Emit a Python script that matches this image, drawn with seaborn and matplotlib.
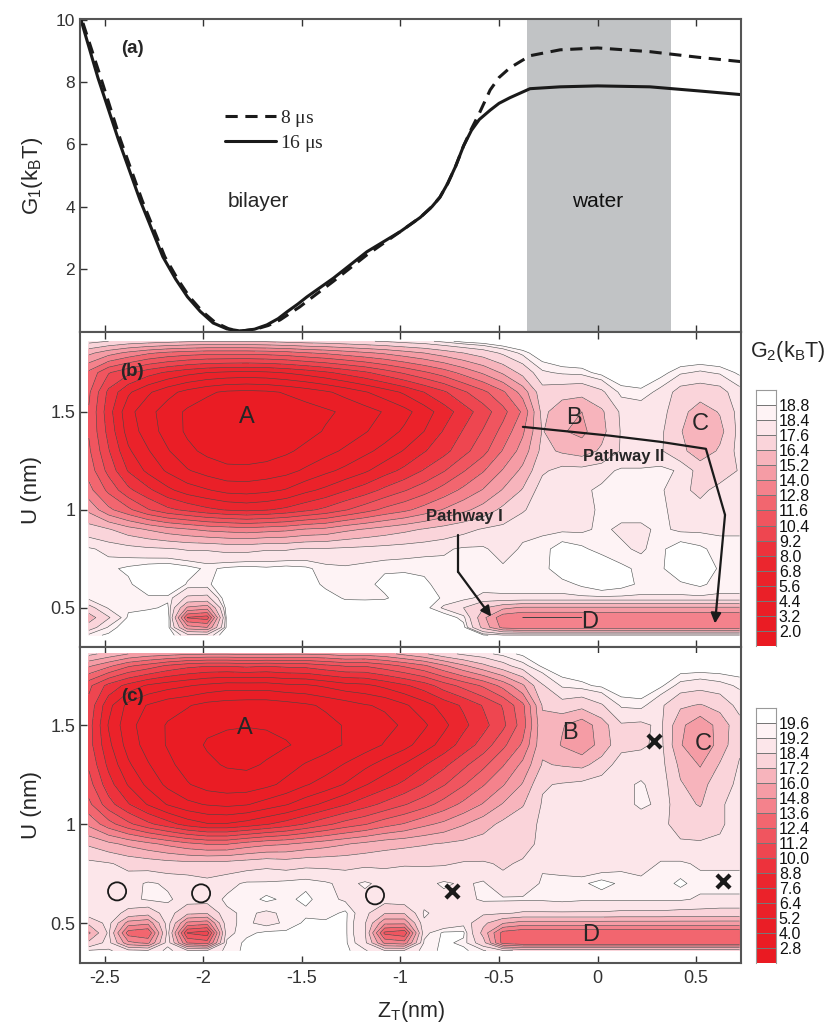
import numpy as np
import seaborn as sns
import matplotlib
matplotlib.use('Agg')
import matplotlib.pyplot as plt
from matplotlib.colors import ListedColormap

# courbes G1 du panneau (a)
z_8us = [-2.61, -2.52, -2.42, -2.31, -2.195, -2.13, -2.07, -2.005, -1.94, -1.87, -1.81, -1.74, -1.67, -1.61, -1.565, -1.51, -1.465, -1.34, -1.17, -1.0, -0.9, -0.84, -0.8,
         -0.76, -0.72, -0.68, -0.64, -0.6, -0.545, -0.5, -0.445, -0.343, -0.19, 0.0, 0.265, 0.51, 0.727]
g_8us = [9.9, 8.15, 6.15, 4.2, 2.39, 1.67, 1.1, 0.63, 0.28, 0.07, 0.0, 0.05, 0.18, 0.36, 0.55, 0.78, 1.0, 1.6, 2.45, 3.2, 3.65, 4.0, 4.3,
         4.75, 5.3, 5.95, 6.5, 7.0, 7.75, 8.15, 8.46, 8.85, 9.04, 9.1, 8.98, 8.8, 8.66]
z_16us = [-2.62, -2.534, -2.43, -2.32, -2.205, -2.14, -2.08, -2.015, -1.95, -1.88, -1.81, -1.74, -1.677, -1.62, -1.575, -1.52, -1.474, -1.34, -1.17, -1.0, -0.9, -0.84, -0.8,
          -0.76, -0.72, -0.68, -0.64, -0.6, -0.545, -0.5, -0.445, -0.343, -0.19, 0.0, 0.265, 0.51, 0.727]
g_16us = [10.0, 8.14, 6.15, 4.2, 2.39, 1.67, 1.1, 0.63, 0.26, 0.07, 0.0, 0.06, 0.2, 0.4, 0.62, 0.87, 1.1, 1.7, 2.55, 3.2, 3.65, 4.0, 4.3,
          4.75, 5.3, 5.95, 6.45, 6.8, 7.1, 7.32, 7.5, 7.79, 7.85, 7.88, 7.85, 7.72, 7.6]

# grille des cartes G2
z_grid = [-2.58, -2.48, -2.38, -2.28, -2.18, -2.08, -1.98, -1.88, -1.78, -1.68, -1.58, -1.48, -1.38, -1.28, -1.18, -1.08, -0.98,
          -0.88, -0.78, -0.68, -0.58, -0.48, -0.38, -0.28, -0.18, -0.08, 0.02, 0.12, 0.22, 0.32, 0.42, 0.52, 0.62, 0.72]
u_grid = [1.86, 1.8, 1.7, 1.6, 1.5, 1.4, 1.3, 1.2, 1.1, 1.0, 0.9, 0.8, 0.7, 0.62, 0.55, 0.5, 0.45, 0.4, 0.36]

g2_b = [
    [18, 17.6, 17.2, 17, 16.8, 16.6, 16.5, 16.5, 16.5, 16.6, 16.8, 17, 17.1, 17.3, 17.5, 17.7, 18, 18.2, 18.6, 19, 19.2, 19.5, 19.5, 19.5, 19.5, 19.5, 19.5, 19.5, 19.5, 19.5, 19.5, 19.5, 19.5, 19.5],
    [15.5, 14.5, 13.7, 13, 12.5, 12.2, 12, 12, 12, 12.1, 12.3, 12.7, 13, 13.4, 13.8, 14.2, 14.7, 15.2, 15.8, 16.4, 17, 17.8, 18.6, 19.2, 19.5, 19.5, 19.5, 19.5, 19.5, 19.5, 19.5, 19.5, 19.5, 19.5],
    [12.5, 10.5, 9.5, 8.5, 7.8, 7.2, 6.8, 6.6, 6.5, 6.6, 6.9, 7.3, 7.8, 8.4, 9, 9.8, 10.6, 11.4, 12.2, 13.2, 14.2, 15.4, 16.8, 18.3, 18.5, 18.6, 19, 19.2, 19.2, 19, 18.5, 18.3, 18.5, 18.9],
    [11.8, 8.9, 7, 5.8, 4.8, 4, 3.4, 3, 2.9, 3, 3.3, 3.7, 4.2, 4.8, 5.5, 6.2, 7, 8, 9, 10.2, 11.3, 12.6, 14.5, 17.2, 17, 16.8, 17.4, 18.6, 18.7, 18.2, 17.2, 17, 17.2, 18.2],
    [11.5, 8.5, 6, 4.8, 3.8, 3, 2.6, 2.3, 2.2, 2.3, 2.5, 2.7, 3, 3.4, 3.9, 4.5, 5.2, 6.2, 7.4, 8.6, 9.8, 11.2, 13, 16.8, 15.5, 15.2, 16.2, 17.8, 18, 18, 16.8, 15.8, 16.5, 18],
    [11.5, 8.8, 6.3, 5, 3.9, 3, 2.5, 2.1, 2.05, 2.1, 2.5, 2.8, 3.3, 3.7, 4.3, 5, 5.8, 6.8, 8.1, 9.3, 10.5, 12, 13.8, 16.5, 15.3, 14.9, 16, 17.7, 17.8, 17.8, 16.5, 15.3, 16, 18],
    [11.8, 9.3, 7, 5.7, 4.5, 3.5, 2.9, 2.6, 2.5, 2.6, 3, 3.5, 4, 4.6, 5.3, 6, 6.9, 7.9, 8.8, 10, 11.2, 12.9, 14.5, 16.8, 16.2, 15.8, 16.6, 17.7, 17.7, 17.7, 16.8, 15.6, 16.6, 18],
    [12.3, 10, 7.9, 6.5, 5.4, 4.5, 3.9, 3.5, 3.5, 3.7, 4, 4.6, 5.3, 5.9, 6.6, 7.5, 8.3, 9.3, 10.3, 11.5, 12.7, 14.1, 15.5, 17.4, 18, 18, 18.2, 18.5, 18.5, 18.6, 18.3, 17.2, 16.9, 17.7],
    [13.2, 11.3, 9.5, 8.3, 7.1, 6.2, 5.7, 5.2, 5.1, 5.3, 5.7, 6.5, 7.1, 7.9, 8.6, 9.5, 10.3, 11.1, 12.1, 13.1, 14.1, 15.3, 16.5, 18.2, 18.2, 18.3, 18.5, 18.6, 18.6, 18.5, 17.9, 17.3, 18, 18.2],
    [14.9, 13.1, 11.9, 10.5, 9.5, 8.9, 8.3, 7.9, 7.7, 7.9, 8.3, 8.9, 9.5, 10.3, 11.1, 11.9, 12.5, 13.3, 14.1, 14.9, 15.7, 16.7, 17.5, 18.1, 18.2, 18.3, 18.45, 18.6, 18.6, 18.5, 18.2, 18, 18.2, 18.3],
    [17, 16.5, 15.7, 15.1, 14.5, 14.1, 13.7, 13.5, 13.3, 13.5, 13.7, 14.1, 14.3, 14.9, 15.3, 15.7, 16.1, 16.5, 16.9, 17.3, 17.7, 17.9, 18.2, 18.3, 18.3, 18.3, 18.5, 18.3, 18.3, 18.5, 18.3, 18.3, 18.3, 18.3],
    [18.5, 18.2, 18, 17.8, 17.7, 17.5, 17.5, 17.3, 17.3, 17.5, 17.5, 17.7, 17.7, 17.8, 17.9, 18, 18.1, 18.2, 18.3, 18.5, 18.5, 18.1, 18.5, 18.6, 19.1, 18.9, 18.6, 18.5, 18.3, 18.7, 19.1, 18.9, 18.6, 18.6],
    [18.6, 18.7, 18.9, 19.1, 19.2, 19, 18.7, 18.9, 19, 18.9, 19, 18.9, 18.6, 18.5, 18.6, 18.7, 18.7, 18.7, 18.6, 18.7, 18.6, 18.5, 18.6, 18.6, 19.2, 19.3, 19.3, 18.9, 18.7, 18.7, 19.3, 19.3, 18.7, 18.6],
    [18.5, 18.5, 18.7, 19.2, 19.3, 18.75, 18.7, 19.2, 19.4, 19.4, 19.4, 19.3, 18.6, 18.6, 18.6, 19, 19.1, 18.9, 18.6, 18.6, 18.7, 18.6, 18.6, 18.6, 18.6, 18.9, 19.2, 19, 18.7, 18.7, 18.7, 18.9, 18.6, 18.6],
    [18.6, 18.5, 18.7, 18.7, 18.7, 17.4, 17.3, 19.3, 19.4, 19.4, 19.4, 19.4, 19.2, 18.7, 18.7, 18.7, 19.2, 19.2, 18.7, 18.6, 18.2, 18.3, 18.3, 18.3, 18.3, 18.3, 18.3, 18.3, 18.3, 18.3, 18.3, 18.3, 18.3, 18.3],
    [17.2, 18.5, 18.7, 18.7, 18.9, 15, 14.5, 19.2, 19.4, 19.4, 19.4, 19.4, 19.4, 19.3, 19.2, 19.4, 18.9, 19, 18.3, 17.6, 16.5, 15.5, 15, 15, 15, 15, 15, 15, 15, 15, 15, 15, 15, 15],
    [15.8, 17.5, 18.9, 19.2, 19.3, 11.5, 11, 19.1, 19.4, 19.4, 19.4, 19.4, 19.4, 19.4, 19.4, 19.4, 19.4, 19.4, 19.2, 18.6, 15.5, 13.2, 12.8, 12.8, 12.8, 12.8, 13, 13, 13, 13, 13, 13, 13, 13],
    [17, 18.5, 19.2, 19.3, 19.1, 14.5, 14, 19, 19.4, 19.4, 19.4, 19.4, 19.4, 19.4, 19.4, 19.4, 19.4, 19.4, 19.4, 19, 16, 13.6, 13.2, 13.2, 13.2, 13.2, 13.2, 13.2, 13.2, 13.2, 13.2, 13.2, 13.2, 13.2],
    [18.6, 18.9, 19.4, 19.4, 19.2, 18, 18, 19.3, 19.4, 19.4, 19.4, 19.4, 19.4, 19.4, 19.4, 19.4, 19.4, 19.4, 19.4, 19.4, 18.9, 18.5, 18.5, 18.5, 18.5, 18.5, 18.5, 18.5, 18.5, 18.5, 18.5, 18.5, 18.5, 18.5],
]

g2_c = [
    [17.5, 16.8, 16, 15.5, 15.3, 15, 14.9, 14.9, 15, 15, 14.9, 14.9, 15, 15.4, 15.3, 15.6, 16.3, 17, 18, 18.6, 19, 19.4, 19.7, 20, 20, 20, 20, 20, 20, 20, 20, 20, 20, 20],
    [15, 13.9, 12.6, 11.9, 11, 10.4, 10.1, 10.1, 10.3, 10.1, 10.3, 10.4, 10.9, 11.3, 11.3, 11.9, 12.6, 13.4, 14.6, 15.8, 16.9, 18, 19, 19.7, 20, 20, 20, 20, 20, 20, 20, 20, 20, 20],
    [11.5, 9.6, 8.4, 7.4, 6.9, 6.5, 6.1, 5.8, 5.8, 5.8, 6.1, 6.2, 6.6, 7.1, 7.3, 7.9, 8.6, 9.4, 10.6, 11.6, 12.6, 14, 15.8, 18.3, 19.3, 19.5, 19.7, 20, 20, 19.7, 19, 18.8, 19, 19.3],
    [10.8, 8, 6, 5.1, 4.4, 4.1, 3.6, 3.4, 3.3, 3.3, 3.5, 3.8, 4.2, 4.6, 5.1, 5.4, 6.2, 7.1, 8.1, 9, 10.1, 11.3, 13.3, 17.3, 18, 17.6, 18.3, 19.3, 19.4, 18.6, 17.4, 17.1, 17.6, 18.8],
    [10.5, 7.5, 5.6, 4.6, 3.9, 3.4, 3, 2.9, 2.85, 2.9, 3.1, 3.3, 3.6, 4.1, 4.3, 4.8, 5.4, 6.2, 7.3, 8.5, 9.6, 10.9, 13, 16.9, 16.1, 15.3, 16.6, 18.3, 18.2, 18.6, 16.3, 15.1, 16.5, 18],
    [10.5, 7.9, 5.9, 4.7, 3.9, 3.2, 2.7, 2.5, 2.4, 2.5, 2.7, 3.1, 3.5, 4.1, 4.6, 5.3, 6, 7, 8.1, 9.3, 10.5, 12.1, 13.8, 16.9, 15.9, 15.1, 16.5, 18, 18.2, 18.7, 16.1, 14.9, 16.5, 18.2],
    [11, 8.5, 6.6, 5.3, 4.3, 3.5, 3, 2.7, 2.6, 2.9, 3.5, 4.1, 4.6, 5.3, 6.1, 6.9, 7.7, 8.7, 9.7, 10.9, 12.1, 13.5, 15.1, 17.3, 17.1, 16.9, 17.7, 19, 19, 18.8, 16.9, 15.9, 17.3, 18.5],
    [11.7, 9.3, 7.5, 6.1, 4.9, 4.1, 3.5, 3.3, 3.3, 3.7, 4.3, 5.1, 5.7, 6.5, 7.5, 8.3, 9.1, 10.1, 11.1, 12.3, 13.5, 14.7, 16.1, 18.3, 18.5, 18.7, 19, 19.1, 19.25, 19, 17.3, 16.7, 18, 18.6],
    [12.7, 10.5, 8.9, 7.5, 6.3, 5.5, 5.1, 4.9, 5.1, 5.7, 6.3, 7.1, 7.9, 8.7, 9.5, 10.3, 11.1, 11.9, 12.9, 13.9, 14.9, 16.1, 17.1, 18.5, 18.6, 18.9, 18.9, 19, 19.3, 19.1, 17.6, 17.1, 18.3, 18.7],
    [14.5, 12.9, 11.5, 10.3, 9.3, 8.3, 7.7, 7.7, 8.1, 8.7, 9.3, 10.1, 10.9, 11.7, 12.3, 13.1, 13.7, 14.5, 15.1, 15.9, 16.7, 17.5, 17.9, 18.6, 18.7, 18.9, 19, 18.9, 18.9, 18.6, 18.1, 17.9, 18.3, 18.7],
    [17, 16.3, 15.7, 15.1, 14.5, 13.9, 13.5, 13.5, 14.1, 14.5, 14.7, 15.1, 15.5, 15.9, 16.3, 16.7, 16.9, 17.1, 17.3, 17.5, 17.7, 17.9, 18.1, 18.6, 18.8, 18.9, 18.9, 18.9, 18.9, 18.5, 18.5, 18.5, 18.5, 18.5],
    [18.7, 18.5, 18.1, 17.9, 17.7, 17.6, 17.6, 17.7, 17.9, 18.1, 17.9, 18.1, 18.1, 18.1, 18.2, 18.2, 18.3, 18.3, 18.3, 18.5, 18.5, 18.3, 18.5, 19.1, 18.9, 18.6, 18.7, 19, 18.7, 19.3, 19.3, 19.1, 19.1, 19.1],
    [19, 19, 18.9, 19.3, 19.1, 19, 18.7, 19, 19.3, 19.3, 19.4, 19.5, 19.3, 19, 19.3, 19, 19.1, 19, 19.3, 19.1, 19.3, 18.6, 18.7, 19.3, 19.4, 19.5, 19.8, 19.5, 19.5, 19.4, 19.7, 19.4, 19.4, 19.4],
    [19, 19, 19, 19.3, 19.3, 18.9, 18.9, 19.3, 19.4, 19.7, 19.5, 19.7, 19.4, 19.1, 19, 18.9, 19.1, 18.9, 19, 19, 19.3, 19.3, 19.3, 19.3, 19.4, 19.3, 19.3, 19.3, 19.3, 19.3, 19.3, 19.1, 19.1, 19.1],
    [19, 18.9, 18.1, 17.7, 18.9, 17.5, 17.3, 19.1, 19.3, 19.1, 19.3, 19.5, 19.4, 19.7, 18.7, 17.3, 17.3, 19.3, 18.9, 18.9, 18.6, 18.5, 18.3, 18.3, 18.3, 18.3, 18.3, 18.2, 18.2, 18.2, 18.1, 18.1, 18, 18],
    [17.5, 18.8, 15.5, 15.1, 18.9, 14.5, 14.1, 19.1, 19.3, 19, 19.3, 19.7, 19.7, 19.7, 18.5, 15.1, 15.1, 19.1, 18.6, 19, 17.5, 16.1, 15.5, 15.5, 15.5, 15.5, 15.5, 15.5, 15.5, 15.5, 15.5, 15.5, 15.5, 15.5],
    [15.8, 18.6, 13, 12.5, 18.8, 11.1, 10.5, 19, 19.5, 19.7, 19.7, 19.7, 19.7, 19.7, 18.5, 12.1, 11.5, 19, 19.7, 19.7, 16.8, 13.1, 12.6, 12.6, 12.5, 12.5, 12.6, 12.6, 12.6, 12.5, 12.5, 12.5, 12.5, 12.5],
    [17.5, 18.8, 15.1, 14.5, 19, 13.5, 13, 19.3, 19.7, 19.7, 19.7, 19.7, 19.7, 19.7, 18.7, 14.5, 14.1, 19.3, 19.7, 19.5, 17.7, 13.1, 12.5, 12.5, 12.5, 12.5, 12.5, 12.5, 12.5, 12.5, 12.5, 12.5, 12.5, 12.5],
    [19.3, 19.3, 18.8, 18.6, 19.4, 18.6, 18.5, 19.4, 19.7, 19.7, 19.7, 19.7, 19.7, 19.7, 19.3, 18.5, 18.6, 19.4, 19.7, 19.7, 19.3, 18.6, 18.2, 18.2, 18.2, 18.2, 18.2, 18.2, 18.2, 18.2, 18.2, 18.2, 18.2, 18.2],
]

levels_b = [2.0, 3.2, 4.4, 5.6, 6.8, 8.0, 9.2, 10.4, 11.6, 12.8, 14.0, 15.2, 16.4, 17.6, 18.4, 18.8]
levels_c = [2.8, 4.0, 5.2, 6.4, 7.6, 8.8, 10.0, 11.2, 12.4, 13.6, 14.8, 16.0, 17.2, 18.4, 19.2, 19.6]
band_colors = ['#ea1a22', '#ea1c24', '#ea1e26', '#ea2028', '#eb222a', '#eb262e', '#ed323c', '#ee4650', '#f0555f',
               '#f2666f', '#f4828c', '#f59ca5', '#f7b4bc', '#fad4da', '#fce6ea', '#fef3f5', '#ffffff']

sns.set_theme(style='ticks', rc={'xtick.direction': 'in', 'ytick.direction': 'in',
                                 'axes.edgecolor': '#555555', 'axes.linewidth': 1.5,
                                 'xtick.color': '#333333', 'ytick.color': '#333333',
                                 'mathtext.default': 'regular'})
plt.rcParams['font.family'] = ['Liberation Sans', 'DejaVu Sans']

W, H = 829, 1026
fig = plt.figure(figsize=(W / 100, H / 100), dpi=100)

def box(x0, y0, x1, y1):
    return fig.add_axes([x0 / W, 1 - y1 / H, (x1 - x0) / W, (y1 - y0) / H])

ax_a = box(80, 19, 741, 332)
ax_b = box(80, 332, 741, 647)
ax_c = box(80, 647, 741, 963)
cax_b = box(756, 390, 776, 646)
cax_c = box(756, 708, 776, 963)

# panneau (a)
ax_a.axvspan(-0.358, 0.372, color='#c1c3c5', lw=0, zorder=0)
sns.lineplot(x=z_8us, y=g_8us, ax=ax_a, color='k', linewidth=2.2, linestyle='--', sort=False, errorbar=None, label='8 $\\mu$s')
sns.lineplot(x=z_16us, y=g_16us, ax=ax_a, color='k', linewidth=2.2, sort=False, errorbar=None, label='16 $\\mu$s')
ax_a.lines[0].set_dashes((4, 2.5))
ax_a.set_xlim(-2.625, 0.727)
ax_a.set_ylim(-0.03, 10.03)
ax_a.set_yticks([2, 4, 6, 8, 10])
ax_a.set_xticks([-2.5, -2, -1.5, -1, -0.5, 0, 0.5])
ax_a.tick_params(labelbottom=False, top=True, bottom=True, left=True, right=False, labelsize=12.5, length=5, width=1)
ax_a.set_ylabel('G$_1$(k$_B$T)', fontsize=16, labelpad=8)
ax_a.legend(loc='upper left', bbox_to_anchor=(0.205, 0.747), frameon=False, handlelength=2.6,
            handletextpad=0.2, labelspacing=0.2, borderpad=0,
            prop={'family': 'Liberation Serif', 'size': 14})
ax_a.text(-2.361, 9.08, '(a)', fontsize=13.5, fontweight='bold', ha='center', va='center')
ax_a.text(-1.72, 4.15, 'bilayer', fontsize=15, ha='center', va='center')
ax_a.text(0.0, 4.15, 'water', fontsize=15, ha='center', va='center', color='#111111')

# panneaux (b) et (c)
for ax, data, levels in [(ax_b, g2_b, levels_b), (ax_c, g2_c, levels_c)]:
    ax.contourf(z_grid, u_grid, np.array(data), levels=levels, colors=band_colors, extend='both')
    ax.contour(z_grid, u_grid, np.array(data), levels=levels, colors='#444444', linewidths=0.4)
    ax.set_xlim(-2.625, 0.727)
    ax.set_xticks([-2.5, -2, -1.5, -1, -0.5, 0, 0.5])
    ax.set_yticks([0.5, 1, 1.5])
    ax.set_yticklabels(['0.5', '1', '1.5'])
    ax.tick_params(top=True, bottom=True, left=True, right=True, labelsize=13, length=5, width=1)
    ax.set_ylabel('U (nm)', fontsize=16, labelpad=6)

ax_b.set_ylim(0.30, 1.907)
ax_c.set_ylim(0.298, 1.895)
ax_b.tick_params(labelbottom=False)
ax_c.set_xticklabels(['-2.5', '-2', '-1.5', '-1', '-0.5', '0', '0.5'])
ax_c.tick_params(axis='x', pad=5)
ax_c.set_xlabel('Z$_T$(nm)', fontsize=15.5, labelpad=9)

for txt, x, y in [('(b)', -2.361, 1.704), ('A', -1.778, 1.474), ('B', -0.12, 1.47), ('C', 0.519, 1.44), ('D', -0.039, 0.429)]:
    ax_b.text(x, y, txt, ha='center', va='center', fontsize=13.5 if txt == '(b)' else 17,
              fontweight='bold' if txt == '(b)' else 'normal')
for txt, x, y in [('(c)', -2.361, 1.646), ('A', -1.788, 1.485), ('B', -0.14, 1.46), ('C', 0.534, 1.405), ('D', -0.034, 0.44)]:
    ax_c.text(x, y, txt, ha='center', va='center', fontsize=13.5 if txt == '(c)' else 17,
              fontweight='bold' if txt == '(c)' else 'normal')

# chemins du panneau (b)
path2_z = [-0.379, 0.063, 0.316, 0.549, 0.646]
path2_u = [1.423, 1.378, 1.347, 1.311, 0.974]
path1_z = [-0.708, -0.708]
path1_u = [0.872, 0.684]
ax_b.plot(path2_z, path2_u, color='k', lw=1.6)
ax_b.plot(path1_z, path1_u, color='k', lw=1.6)
ax_b.annotate('', xy=(0.595, 0.42), xytext=(0.646, 0.974),
              arrowprops=dict(arrowstyle='-|>', color='k', lw=1.6, mutation_scale=15, shrinkA=0, shrinkB=0))
ax_b.annotate('', xy=(-0.54, 0.455), xytext=(-0.708, 0.684),
              arrowprops=dict(arrowstyle='-|>', color='k', lw=1.6, mutation_scale=15, shrinkA=0, shrinkB=0))
ax_b.text(0.134, 1.27, 'Pathway II', fontsize=12, fontweight='bold', ha='center', va='center')
ax_b.text(-0.678, 0.964, 'Pathway I', fontsize=12, fontweight='bold', ha='center', va='center')

# marqueurs du panneau (c)
cross_z = [0.286, -0.739, 0.636]
cross_u = [1.42, 0.66, 0.71]
ring_z = [-2.437, -2.011, -1.129]
ring_u = [0.66, 0.65, 0.64]
sns.scatterplot(x=cross_z, y=cross_u, ax=ax_c, marker='x', s=90, color='k', linewidth=3, zorder=5)
sns.scatterplot(x=ring_z, y=ring_u, ax=ax_c, marker='o', s=170, facecolor='none', edgecolor='k', linewidth=1.3, zorder=5)

# barres de couleur
for cax, levels in [(cax_b, levels_b), (cax_c, levels_c)]:
    bands = np.arange(16, -1, -1).reshape(-1, 1)
    sns.heatmap(bands, ax=cax, cmap=ListedColormap(band_colors), cbar=False, xticklabels=False,
                linewidths=0.4, linecolor='#777777')
    cax.set_yticks(np.arange(1, 17))
    cax.set_yticklabels(['%.1f' % v for v in levels[::-1]], rotation=0, fontsize=11.5, color='#111111')
    cax.yaxis.tick_right()
    cax.tick_params(axis='y', length=0, pad=2)
    for s in ['top', 'left', 'right']:
        cax.spines[s].set_visible(True)
        cax.spines[s].set_color('#999999')
        cax.spines[s].set_linewidth(0.8)

fig.text(788 / W, 1 - 352 / H, 'G$_2$(k$_B$T)', fontsize=15.5, ha='center', va='center')

fig.savefig('out.png', dpi=100)
